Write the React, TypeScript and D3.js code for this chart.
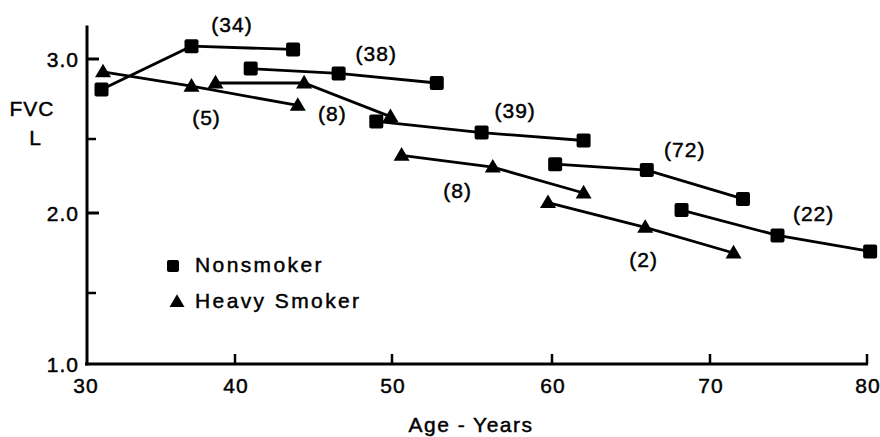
import React from "react";
import * as d3 from "d3";

// Axis ticks
const xTicks = [30, 40, 50, 60, 70, 80];
const yMajorTicks = [1.0, 2.0, 3.0];
const yMinorTicks = [1.5, 2.5];

// Cohort groups (sample size in parentheses)
const groupNames = ["(34)", "(38)", "(39)", "(72)", "(22)", "(5)", "(8)", "(8)", "(2)"];
const groupTypes = ["Nonsmoker", "Nonsmoker", "Nonsmoker", "Nonsmoker", "Nonsmoker",
  "Heavy Smoker", "Heavy Smoker", "Heavy Smoker", "Heavy Smoker"];
const groupAges = [
  [31.1, 37.1, 43.7],
  [41.0, 46.6, 52.8],
  [49.0, 55.6, 62.0],
  [60.2, 66.0, 72.1],
  [68.2, 74.3, 80.2],
  [31.2, 37.1, 44.0],
  [38.7, 44.4, 49.9],
  [50.6, 56.3, 62.0],
  [59.75, 65.9, 71.5],
];
const groupFVC = [
  [2.81, 3.08, 3.06],
  [2.94, 2.91, 2.85],
  [2.61, 2.54, 2.49],
  [2.33, 2.29, 2.095],
  [2.02, 1.86, 1.76],
  [2.92, 2.83, 2.71],
  [2.85, 2.85, 2.64],
  [2.39, 2.31, 2.135],
  [2.07, 1.91, 1.75],
];
const labelAges = [39.8, 49.0, 57.7, 68.4, 76.6, 38.1, 46.2, 54.1, 65.8];
const labelFVC = [3.22, 3.04, 2.68, 2.43, 2.0, 2.64, 2.66, 2.155, 1.71];

const legendItems = ["Nonsmoker", "Heavy Smoker"];

const FONT = "'Liberation Sans', Arial, Helvetica, sans-serif";

function Square({ cx, cy, s }: { cx: number; cy: number; s: number }) {
  return <rect x={cx - s / 2} y={cy - s / 2} width={s} height={s} rx={2} fill="#000" />;
}
function Triangle({ cx, cy, w }: { cx: number; cy: number; w: number }) {
  const h = w * 0.85;
  const d = `M${cx},${cy - h * 0.6}L${cx + w / 2},${cy + h * 0.4}L${cx - w / 2},${cy + h * 0.4}Z`;
  return <path d={d} fill="#000" />;
}

export default function App() {
  const x = d3.scaleLinear().domain(xTicks).range([85, 235, 392, 552, 710, 867]);
  const y = d3.scaleLinear().domain([1, 1.5, 2, 2.5, 3]).range([364, 293, 213, 139, 59]);
  const line = d3.line<[number, number]>().x((d) => x(d[0])).y((d) => y(d[1]));
  const yTop = y(3.21);
  const txt = { fill: "#000", stroke: "#000", strokeWidth: 0.45 };

  return (
    <svg width={880} height={437} style={{ position: "absolute", left: 0, top: 0, background: "#fff" }}
      fontFamily={FONT}>
      <rect width={880} height={437} fill="#fff" />
      {/* axes */}
      <line x1={x(30) + 2} x2={x(30) + 2} y1={yTop} y2={y(1) + 1.5} stroke="#000" strokeWidth={3} />
      <line x1={x(30)} x2={x(80) + 1} y1={y(1)} y2={y(1)} stroke="#000" strokeWidth={3} />
      {xTicks.slice(1).map((t) => (
        <line key={"xt" + t} x1={x(t)} x2={x(t)} y1={y(1)} y2={y(1) - 10} stroke="#000" strokeWidth={2.5} />
      ))}
      {yMajorTicks.slice(1).map((t) => (
        <line key={"yt" + t} x1={x(30) + 2} x2={x(30) + 14} y1={y(t)} y2={y(t)} stroke="#000" strokeWidth={3} />
      ))}
      {yMinorTicks.map((t) => (
        <line key={"ym" + t} x1={x(30) + 2} x2={x(30) + 11} y1={y(t)} y2={y(t)} stroke="#000" strokeWidth={2.5} />
      ))}
      {xTicks.map((t) => (
        <text key={"xl" + t} x={x(t) + 1} y={393} textAnchor="middle" fontSize={21} letterSpacing={1} {...txt}>{t}</text>
      ))}
      {yMajorTicks.map((t) => (
        <text key={"yl" + t} x={79} y={y(t) + 8} textAnchor="end" fontSize={21} letterSpacing={1} {...txt}>{t.toFixed(1)}</text>
      ))}
      <text x={32} y={116} textAnchor="middle" fontSize={21} letterSpacing={1} {...txt}>FVC</text>
      <text x={35} y={145} textAnchor="middle" fontSize={21} {...txt}>L</text>
      <text x={471} y={432} textAnchor="middle" fontSize={21} letterSpacing={1.5} {...txt}>Age - Years</text>

      {/* series */}
      {groupAges.map((ages, i) => {
        const pts = ages.map((a, j) => [a, groupFVC[i][j]] as [number, number]);
        return (
          <g key={"g" + i}>
            <path d={line(pts) || ""} fill="none" stroke="#000" strokeWidth={2.8} />
            {pts.map((p, j) =>
              groupTypes[i] === "Nonsmoker" ? (
                <Square key={j} cx={x(p[0])} cy={y(p[1])} s={14} />
              ) : (
                <Triangle key={j} cx={x(p[0])} cy={y(p[1])} w={16} />
              )
            )}
            <text x={x(labelAges[i])} y={y(labelFVC[i]) + 8} textAnchor="middle" fontSize={21} letterSpacing={1} {...txt}>
              {groupNames[i]}
            </text>
          </g>
        );
      })}

      {/* legend */}
      {legendItems.map((name, i) => (
        <g key={"lg" + i}>
          {i === 0 ? <Square cx={173} cy={266} s={12} /> : <Triangle cx={177} cy={302} w={15} />}
          <text x={195} y={272 + i * 36} fontSize={21} letterSpacing={2.4} {...txt}>{name}</text>
        </g>
      ))}
    </svg>
  );
}
